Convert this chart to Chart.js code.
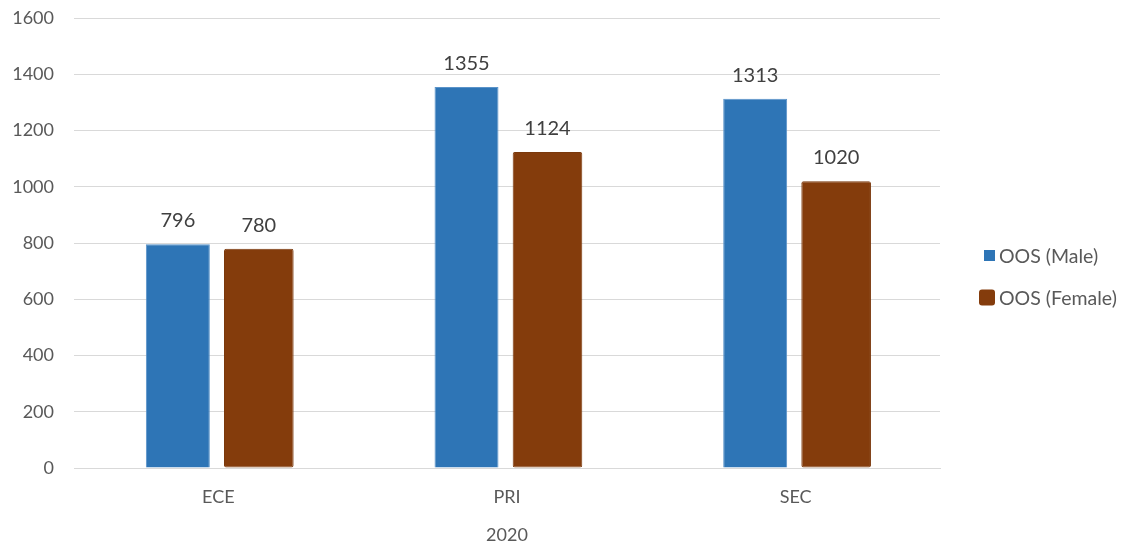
<!DOCTYPE html>
<html>
<head>
<meta charset="utf-8">
<style>
  html, body { margin: 0; padding: 0; background: #ffffff; }
  #wrap { width: 1122px; height: 546px; }
</style>
<script src="https://cdn.jsdelivr.net/npm/chart.js@4.4.1/dist/chart.umd.min.js"></script>
</head>
<body>
<div id="wrap"><canvas id="chart" width="1122" height="546"></canvas></div>
<script>
// Out-of-school counts by level, 2020
const categories = ['ECE', 'PRI', 'SEC'];
const maleValues = [796, 1355, 1313];
const femaleValues = [780, 1124, 1020];
const seriesNames = ['OOS (Male)', 'OOS (Female)'];
const yTicks = [0, 200, 400, 600, 800, 1000, 1200, 1400, 1600];
const axisTitle = '2020';

const FONT = 'Lato, "Liberation Sans", sans-serif';
const TEXT = '#595959';
const GRID = '#d9d9d9';
const BLUE = '#2e75b6';
const BROWN = '#843c0c';

// value labels above each bar
const valueLabels = {
  id: 'valueLabels',
  afterDatasetsDraw(chart) {
    const ctx = chart.ctx;
    ctx.save();
    ctx.font = '20px ' + FONT;
    ctx.fillStyle = '#404040';
    ctx.textAlign = 'center';
    ctx.textBaseline = 'alphabetic';
    chart.data.datasets.forEach((ds, i) => {
      chart.getDatasetMeta(i).data.forEach((bar, j) => {
        ctx.fillText(String(ds.data[j]), bar.x, bar.y - 17);
      });
    });
    ctx.restore();
  }
};

// legend at the right, one entry per line
const sideLegend = {
  id: 'sideLegend',
  afterDraw(chart) {
    const ctx = chart.ctx;
    ctx.save();
    ctx.font = '19.5px ' + FONT;
    ctx.textBaseline = 'middle';
    ctx.textAlign = 'left';
    const entries = [
      { y: 255.5, size: 11, r: 0 },
      { y: 297.5, size: 16, r: 3 }
    ];
    chart.data.datasets.forEach((ds, i) => {
      const e = entries[i];
      const right = 995;
      ctx.fillStyle = ds.backgroundColor;
      ctx.beginPath();
      if (ctx.roundRect) ctx.roundRect(right - e.size, e.y - e.size / 2, e.size, e.size, e.r);
      else ctx.rect(right - e.size, e.y - e.size / 2, e.size, e.size);
      ctx.fill();
      ctx.fillStyle = TEXT;
      ctx.fillText(ds.label, 999, e.y + 1);
    });
    ctx.restore();
  }
};

new Chart(document.getElementById('chart'), {
  type: 'bar',
  data: {
    labels: categories,
    datasets: [
      {
        label: seriesNames[0],
        data: maleValues,
        backgroundColor: BLUE,
        borderColor: '#5a93c9',
        borderWidth: 1,
        barPercentage: 0.79,
        categoryPercentage: 0.561
      },
      {
        label: seriesNames[1],
        data: femaleValues,
        backgroundColor: BROWN,
        borderColor: '#7a380c',
        borderWidth: 1,
        borderRadius: 2,
        borderSkipped: false,
        barPercentage: 0.86,
        categoryPercentage: 0.561
      }
    ]
  },
  options: {
    responsive: false,
    animation: false,
    layout: { padding: { top: 18, right: 182, bottom: 0, left: 0 } },
    plugins: {
      legend: { display: false },
      tooltip: { enabled: false }
    },
    scales: {
      x: {
        grid: { display: false, drawTicks: false },
        border: { display: true, color: GRID, width: 1 },
        ticks: { color: TEXT, font: { family: FONT, size: 18 }, padding: 18 },
        title: {
          display: true,
          text: axisTitle,
          color: TEXT,
          font: { family: FONT, size: 18 },
          padding: { top: 14, bottom: 0 }
        },
        afterFit(scale) {
          scale.height = 78;
          scale.paddingLeft = 0;
          scale.paddingRight = 0;
        }
      },
      y: {
        min: 0,
        max: 1600,
        afterBuildTicks(scale) { scale.ticks = yTicks.map(v => ({ value: v })); },
        grid: { color: GRID, lineWidth: 1, drawTicks: false },
        border: { display: false },
        ticks: {
          color: TEXT,
          font: { family: FONT, size: 18 },
          padding: 20,
          callback: (v) => String(v)
        },
        afterFit(scale) {
          scale.width = 74;
          scale.paddingTop = 0;
          scale.paddingBottom = 0;
        }
      }
    }
  },
  plugins: [valueLabels, sideLegend]
});
</script>
</body>
</html>
